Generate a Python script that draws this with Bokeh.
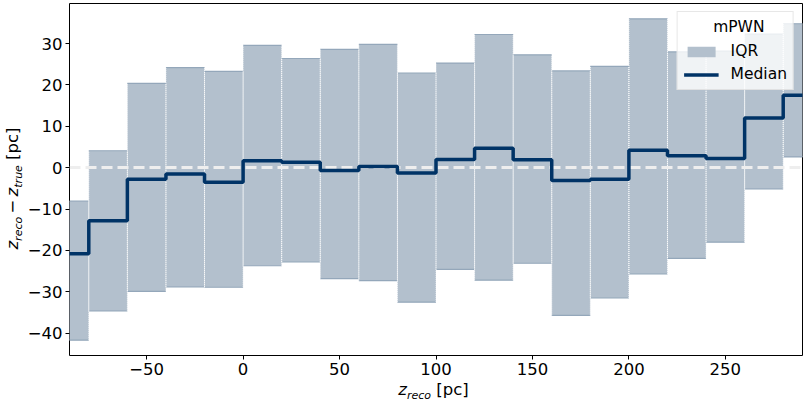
from bokeh.plotting import figure
from bokeh.models import (Range1d, FixedTicker, CustomJSTickFormatter,
                          Legend, LegendItem, ColumnDataSource, Div)
from bokeh.layouts import column, row
from bokeh.embed import file_html
from bokeh.resources import INLINE

# ---- data ----
bin_left = [-100, -80, -60, -40, -20, 0, 20, 40, 60, 80, 100, 120, 140, 160, 180, 200, 220, 240, 260, 280]
bin_right = [-80, -60, -40, -20, 0, 20, 40, 60, 80, 100, 120, 140, 160, 180, 200, 220, 240, 260, 280, 300]
q75 = [-8.1, 4.1, 20.4, 24.2, 23.3, 29.6, 26.4, 28.6, 29.8, 22.9, 25.3, 32.2, 27.3, 23.4, 24.5, 36.0, 28.0, 28.2, 32.3, 34.8]
q25 = [-41.7, -34.6, -29.9, -28.8, -28.9, -23.7, -22.8, -26.8, -27.3, -32.5, -24.6, -27.2, -23.1, -35.7, -31.5, -25.7, -21.9, -18.0, -5.1, 2.6]
median = [-20.8, -12.8, -2.8, -1.5, -3.5, 1.7, 1.3, -0.7, 0.3, -1.3, 2.0, 4.7, 1.9, -3.1, -2.8, 4.2, 2.9, 2.2, 12.0, 17.5]
x_ticks = [-50, 0, 50, 100, 150, 200, 250]
y_ticks = [-40, -30, -20, -10, 0, 10, 20, 30]
x_lim = (-90, 290)
y_lim = (-45.4, 39.7)
zero_level = [0]

FILL = "#b3c0cd"
EDGE = "#94a7ba"
NAVY = "#003366"
FONT = "DejaVu Sans"

TOTAL_W = 805
YDIV_W = 24
FIG_W = TOTAL_W - YDIV_W
FIG_H = 385
XDIV_H = 17

p = figure(width=FIG_W, height=FIG_H, output_backend="svg", toolbar_location=None,
           x_range=Range1d(*x_lim), y_range=Range1d(*y_lim),
           min_border_left=41, min_border_right=3, min_border_top=3, min_border_bottom=30)
p.background_fill_color = "white"
p.border_fill_color = "white"
p.outline_line_color = "black"
p.outline_line_width = 1
p.grid.visible = False

src = ColumnDataSource(dict(left=bin_left, right=bin_right, top=q75, bottom=q25))
iqr = p.quad(left="left", right="right", top="top", bottom="bottom", source=src,
             fill_color=FILL, line_color=None)
p.segment(x0="left", x1="right", y0="top", y1="top", source=src, line_color=EDGE, line_width=1.2)
p.segment(x0="left", x1="right", y0="bottom", y1="bottom", source=src, line_color=EDGE, line_width=1.2)
p.segment(x0="left", x1="left", y0="bottom", y1="top", source=src, line_color="white",
          line_width=1, line_alpha=0.8, line_dash="1 1")
p.segment(x0="right", x1="right", y0="bottom", y1="top", source=src, line_color="white",
          line_width=1, line_alpha=0.8, line_dash="1 1")

p.hspan(y=zero_level, line_color="#eeeeee", line_width=3, line_dash="11 5")

step_x = bin_left + [bin_right[-1]]
step_y = median + [median[-1]]
med = p.step(x=step_x, y=step_y, mode="after", line_color=NAVY, line_width=3.5)

# axes
for ax in (p.xaxis[0], p.yaxis[0]):
    ax.axis_line_color = None
    ax.major_tick_line_color = "black"
    ax.major_tick_line_width = 1
    ax.major_tick_out = 4
    ax.major_tick_in = 0
    ax.minor_tick_line_color = None
    ax.major_label_text_font = FONT
    ax.major_label_text_font_size = "16.5px"
    ax.major_label_text_color = "black"
    ax.major_label_standoff = 3
    ax.formatter = CustomJSTickFormatter(code="return tick < 0 ? '\u2212' + Math.abs(tick) : tick.toString();")
p.xaxis[0].ticker = FixedTicker(ticks=x_ticks)
p.yaxis[0].ticker = FixedTicker(ticks=y_ticks)

# legend (title centred with non-breaking spaces, as Bokeh left-aligns titles)
legend = Legend(items=[LegendItem(label="IQR", renderers=[iqr]),
                       LegendItem(label="Median", renderers=[med])],
                location="top_right", title="\u00a0" * 6 + "mPWN")
legend.title_text_font = FONT
legend.title_text_font_size = "15.5px"
legend.title_text_font_style = "normal"
legend.title_text_color = "black"
legend.title_standoff = 6
legend.label_text_font = FONT
legend.label_text_font_size = "15.5px"
legend.label_text_color = "black"
legend.glyph_width = 35
legend.glyph_height = 13
legend.label_standoff = 12
legend.spacing = 5
legend.padding = 6
legend.margin = 8
legend.background_fill_alpha = 0.8
legend.border_line_color = "#d0d0d0"
legend.border_line_width = 1
p.add_layout(legend)

# axis labels as HTML text (with subscripts)
SUB = "font-size:11px; font-style:italic; vertical-align:-4px; line-height:0;"
ylabel_html = (
    '<div style="width:%dpx; height:%dpx; display:flex; align-items:center; justify-content:center;">'
    '<div style="flex-shrink:0; white-space:nowrap; font-family:\'DejaVu Sans\'; font-size:16.5px; '
    'line-height:18px; color:black; transform: translate(1px,-4.5px) rotate(-90deg);">'
    '<i>z</i><span style="%s">reco</span>\u2009\u2212\u2009<i>z</i><span style="%s">true</span> [pc]</div></div>'
) % (YDIV_W, FIG_H, SUB, SUB)
xlabel_html = (
    '<div style="box-sizing:border-box; width:%dpx; padding-left:62px; text-align:center; '
    'white-space:nowrap; font-family:\'DejaVu Sans\'; font-size:16.5px; line-height:16px; color:black; '
    'transform: translateY(-3px);">'
    '<i>z</i><span style="%s">reco</span> [pc]</div>'
) % (TOTAL_W, SUB)

ydiv = Div(text=ylabel_html, width=YDIV_W, height=FIG_H, margin=0, styles={"overflow": "visible"})
xdiv = Div(text=xlabel_html, width=TOTAL_W, height=XDIV_H, margin=0, styles={"overflow": "visible"})

layout = column(row(ydiv, p, margin=0, spacing=0), xdiv, margin=0, spacing=0)

open("out.html", "w").write(file_html(layout, INLINE))
